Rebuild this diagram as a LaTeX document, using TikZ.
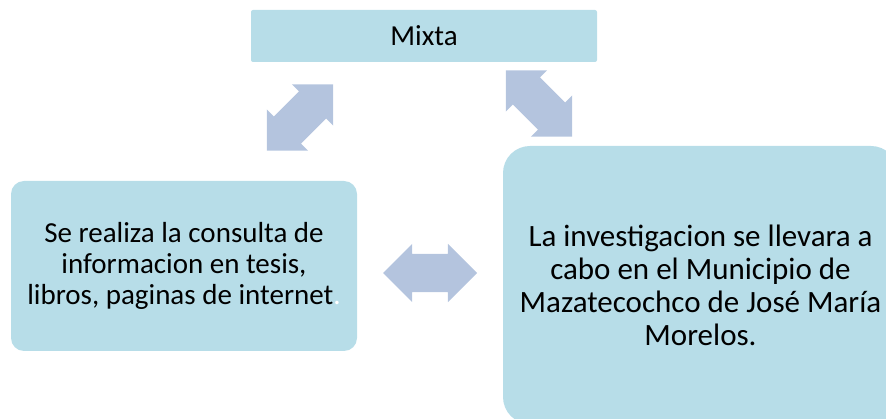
\documentclass[tikz,border=0pt]{standalone}
\usepackage{fontspec}
\setmainfont{Carlito}
\usetikzlibrary{shapes.arrows}
\definecolor{boxblue}{RGB}{183,221,232}
\definecolor{arrblue}{RGB}{180,196,222}
\def\biarrow(#1,#2)#3#4{\node [twoway,rotate=#3] (#4) at (#1,#2) {};}

\begin{document}
\begin{tikzpicture}[x=1pt,y=-1pt,
  box/.style={fill=boxblue,align=center,inner sep=0pt,font=\fontsize{29}{31}\selectfont},
  twoway/.style={double arrow,fill=arrblue,double arrow head extend=10pt,
    minimum height=94pt,minimum width=58pt,inner xsep=0pt,inner ysep=19pt}]
\useasboundingbox (0,0) rectangle (886,419);
\clip (0,0) rectangle (886,419);
\node [box,rounded corners=2pt,minimum width=346pt,minimum height=52pt] (mixta) at (424,36) {Mixta};
\node [box,rounded corners=13pt,minimum width=346pt,minimum height=170pt] (consulta) at (184,266)
  {Se realiza la consulta de\\informacion en tesis,\\libros, paginas de internet{\color{white}.}};
\node [box,rounded corners=27pt,minimum width=395pt,minimum height=278pt,
  font=\fontsize{31}{33}\selectfont] (lugar) at (700.5,285)
  {La investigacion se llevara a\\cabo en el Municipio de\\Mazatecochco de José María\\Morelos.};
\biarrow(300,117.5){45}{izq}
\biarrow(539,103.5){-45}{der}
\biarrow(430,273){0}{centro}
\end{tikzpicture}
\end{document}
